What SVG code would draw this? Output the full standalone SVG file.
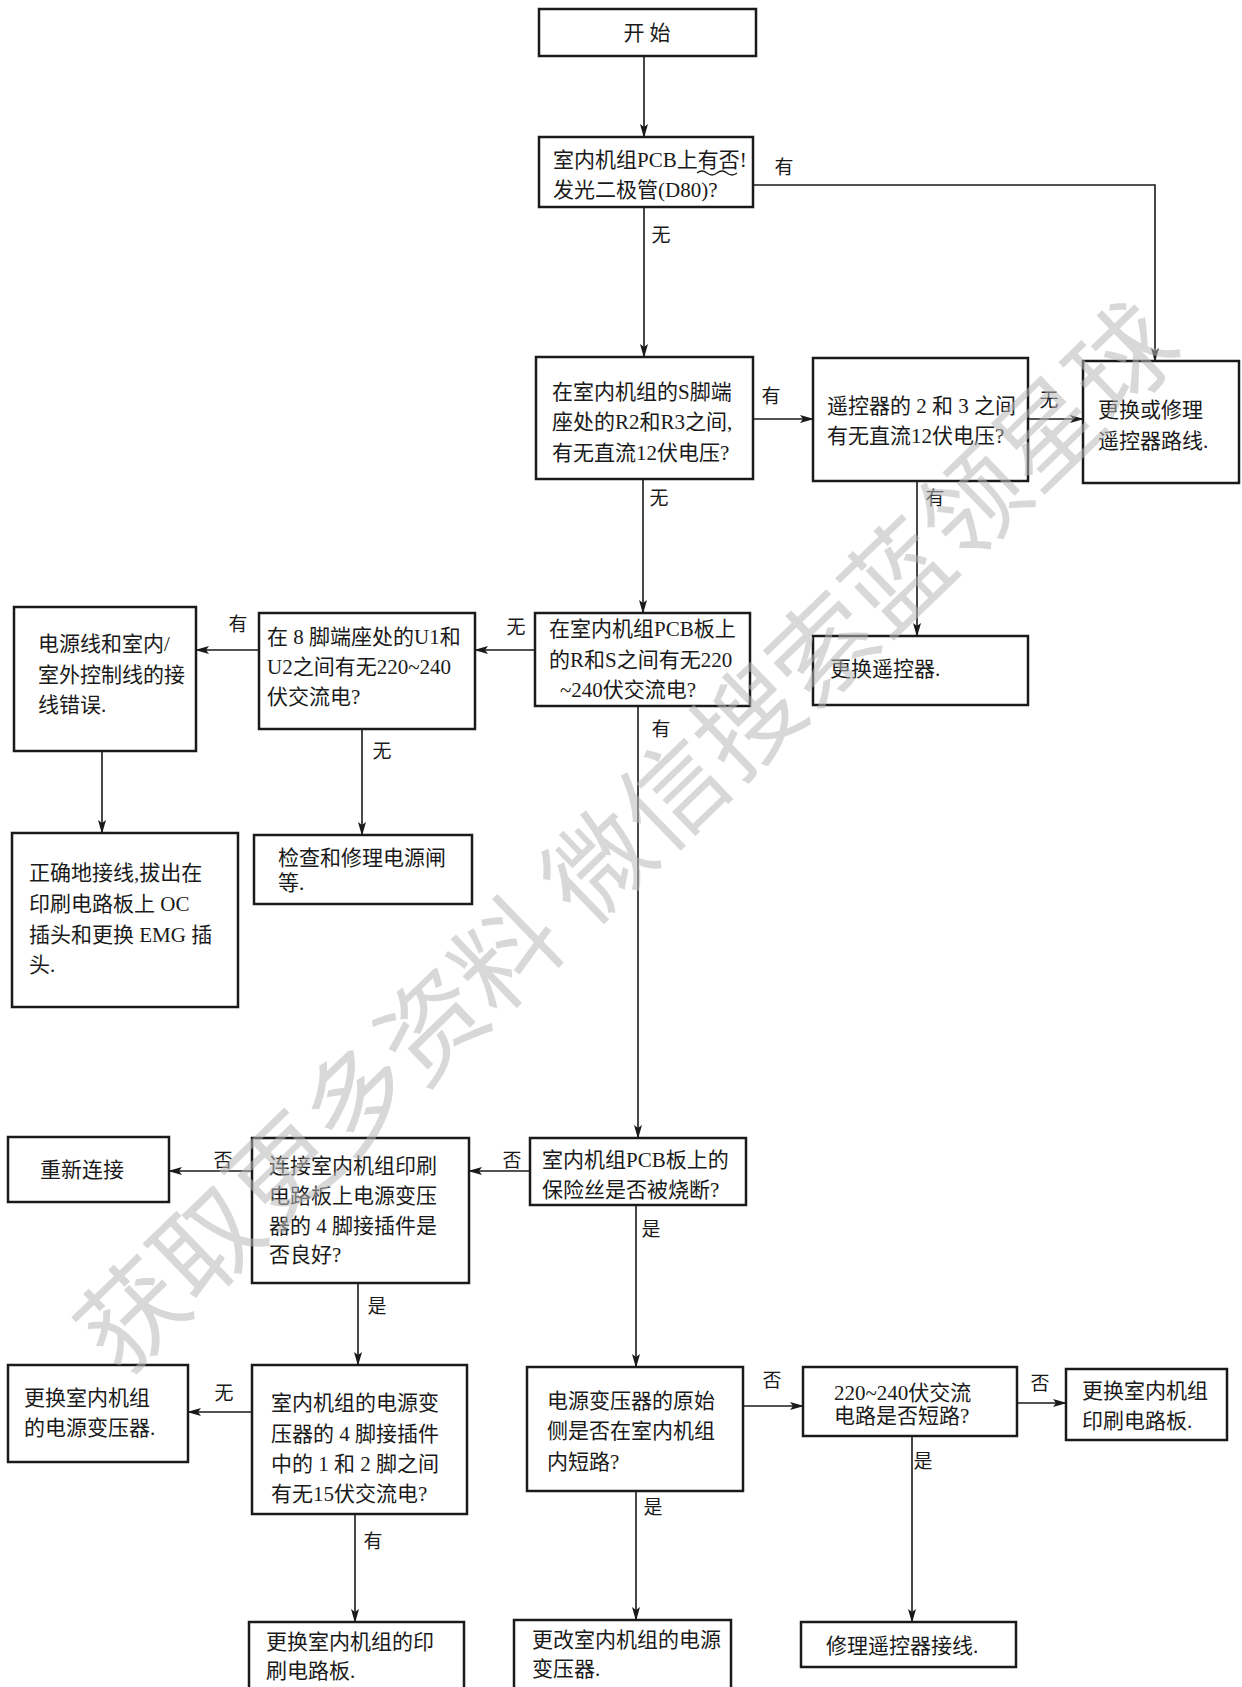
<svg xmlns="http://www.w3.org/2000/svg" width="1242" height="1687" viewBox="0 0 1242 1687">
<style>
.box{fill:none;stroke:#1a1a1a;stroke-width:2.5}
.t{font-family:"Liberation Serif","Noto Sans CJK SC",serif;font-size:21px;fill:#1a1a1a}
.l{font-family:"Liberation Serif","Noto Sans CJK SC",serif;font-size:19px;fill:#1a1a1a;text-anchor:middle;dominant-baseline:central}
.c{fill:none;stroke:#1a1a1a;stroke-width:1.6;marker-end:url(#ah)}
.wm{font-family:"Noto Sans CJK SC",sans-serif;font-size:104px;fill:#b8b8b8;fill-opacity:0.55;text-anchor:middle;dominant-baseline:central}
</style>
<defs>
<marker id="ah" viewBox="0 0 14 10" refX="13" refY="5" markerWidth="14" markerHeight="10" markerUnits="userSpaceOnUse" orient="auto">
<path d="M0,1 L14,5 L0,9 L3,5 Z" fill="#1a1a1a"/>
</marker>
</defs>
<rect width="1242" height="1687" fill="#ffffff"/>

<g id="connectors">
<path class="c" d="M644,56 V137"/>
<path class="c" d="M644,207 V357"/>
<path class="c" d="M753,185 H1155 V361"/>
<path class="c" d="M753,419 H813"/>
<path class="c" d="M1028,419 H1083"/>
<path class="c" d="M917,481 V636"/>
<path class="c" d="M643,479 V613"/>
<path class="c" d="M535,650 H475"/>
<path class="c" d="M259,650 H196"/>
<path class="c" d="M362,729 V835"/>
<path class="c" d="M102,751 V833"/>
<path class="c" d="M638,706 V1138"/>
<path class="c" d="M530,1171 H469"/>
<path class="c" d="M252,1171 H169"/>
<path class="c" d="M358,1283 V1365"/>
<path class="c" d="M252,1412 H188"/>
<path class="c" d="M355,1514 V1622"/>
<path class="c" d="M636,1205 V1367"/>
<path class="c" d="M743,1406 H803"/>
<path class="c" d="M1017,1403 H1066"/>
<path class="c" d="M912,1436 V1622"/>
<path class="c" d="M636,1491 V1620"/>
<text class="l" x="661" y="235">无</text>
<text class="l" x="784" y="167">有</text>
<text class="l" x="771" y="396">有</text>
<text class="l" x="1049" y="400">无</text>
<text class="l" x="935" y="498">有</text>
<text class="l" x="659" y="498">无</text>
<text class="l" x="516" y="627">无</text>
<text class="l" x="238" y="624">有</text>
<text class="l" x="382" y="751">无</text>
<text class="l" x="661" y="729">有</text>
<text class="l" x="512" y="1160">否</text>
<text class="l" x="223" y="1160">否</text>
<text class="l" x="377" y="1306">是</text>
<text class="l" x="224" y="1393">无</text>
<text class="l" x="373" y="1541">有</text>
<text class="l" x="651" y="1229">是</text>
<text class="l" x="772" y="1380">否</text>
<text class="l" x="1040" y="1383">否</text>
<text class="l" x="923" y="1461">是</text>
<text class="l" x="653" y="1507">是</text>
</g>

<g id="n-start">
<rect class="box" x="539" y="9" width="217" height="47"/>
<text class="t" x="647" y="40" text-anchor="middle">开 始</text>
</g>
<g id="n-d80">
<rect class="box" x="539" y="137" width="214" height="70"/>
<text class="t" x="553" y="167">室内机组PCB上有否!</text>
<text class="t" x="553" y="197">发光二极管(D80)?</text>
<path d="M697,173 q5,-4 10,0 t10,0 t10,0 t10,0" fill="none" stroke="#1a1a1a" stroke-width="1.3"/>
</g>
<g id="n-s">
<rect class="box" x="536" y="357" width="217" height="122"/>
<text class="t" x="552" y="399">在室内机组的S脚端</text>
<text class="t" x="552" y="429">座处的R2和R3之间,</text>
<text class="t" x="552" y="460">有无直流12伏电压?</text>
</g>
<g id="n-remote23">
<rect class="box" x="813" y="358" width="215" height="123"/>
<text class="t" x="827" y="413">遥控器的 2 和 3 之间</text>
<text class="t" x="827" y="443">有无直流12伏电压?</text>
</g>
<g id="n-repairline">
<rect class="box" x="1083" y="361" width="156" height="122"/>
<text class="t" x="1098" y="417">更换或修理</text>
<text class="t" x="1098" y="448">遥控器路线.</text>
</g>
<g id="n-rs">
<rect class="box" x="535" y="613" width="215" height="93"/>
<text class="t" x="549" y="636">在室内机组PCB板上</text>
<text class="t" x="549" y="667">的R和S之间有无220</text>
<text class="t" x="560" y="697">~240伏交流电?</text>
</g>
<g id="n-u1u2">
<rect class="box" x="259" y="613" width="216" height="116"/>
<text class="t" x="267" y="644">在 8 脚端座处的U1和</text>
<text class="t" x="267" y="674">U2之间有无220~240</text>
<text class="t" x="267" y="704">伏交流电?</text>
</g>
<g id="n-wiring">
<rect class="box" x="14" y="607" width="182" height="144"/>
<text class="t" x="38" y="651">电源线和室内/</text>
<text class="t" x="38" y="682">室外控制线的接</text>
<text class="t" x="38" y="712">线错误.</text>
</g>
<g id="n-replremote">
<rect class="box" x="813" y="636" width="215" height="69"/>
<text class="t" x="830" y="676">更换遥控器.</text>
</g>
<g id="n-correct">
<rect class="box" x="12" y="833" width="226" height="174"/>
<text class="t" x="29" y="880">正确地接线,拔出在</text>
<text class="t" x="29" y="911">印刷电路板上 OC</text>
<text class="t" x="29" y="942">插头和更换 EMG 插</text>
<text class="t" x="29" y="972">头.</text>
</g>
<g id="n-check">
<rect class="box" x="254" y="835" width="218" height="69"/>
<text class="t" x="278" y="865">检查和修理电源闸</text>
<text class="t" x="278" y="890">等.</text>
</g>
<g id="n-reconnect">
<rect class="box" x="8" y="1137" width="161" height="65"/>
<text class="t" x="40" y="1177">重新连接</text>
</g>
<g id="n-connector">
<rect class="box" x="252" y="1138" width="217" height="145"/>
<text class="t" x="269" y="1173">连接室内机组印刷</text>
<text class="t" x="269" y="1203">电路板上电源变压</text>
<text class="t" x="269" y="1233">器的 4 脚接插件是</text>
<text class="t" x="269" y="1262">否良好?</text>
</g>
<g id="n-fuse">
<rect class="box" x="530" y="1138" width="216" height="67"/>
<text class="t" x="542" y="1167">室内机组PCB板上的</text>
<text class="t" x="542" y="1197">保险丝是否被烧断?</text>
</g>
<g id="n-repltrans">
<rect class="box" x="8" y="1365" width="180" height="97"/>
<text class="t" x="24" y="1405">更换室内机组</text>
<text class="t" x="24" y="1435">的电源变压器.</text>
</g>
<g id="n-15v">
<rect class="box" x="252" y="1365" width="215" height="149"/>
<text class="t" x="271" y="1410">室内机组的电源变</text>
<text class="t" x="271" y="1441">压器的 4 脚接插件</text>
<text class="t" x="271" y="1471">中的 1 和 2 脚之间</text>
<text class="t" x="271" y="1501">有无15伏交流电?</text>
</g>
<g id="n-primary">
<rect class="box" x="527" y="1367" width="216" height="124"/>
<text class="t" x="547" y="1408">电源变压器的原始</text>
<text class="t" x="547" y="1438">侧是否在室内机组</text>
<text class="t" x="547" y="1469">内短路?</text>
</g>
<g id="n-acshort">
<rect class="box" x="803" y="1367" width="214" height="69"/>
<text class="t" x="834" y="1400">220~240伏交流</text>
<text class="t" x="834" y="1423">电路是否短路?</text>
</g>
<g id="n-replpcb">
<rect class="box" x="1066" y="1369" width="161" height="71"/>
<text class="t" x="1082" y="1398">更换室内机组</text>
<text class="t" x="1082" y="1428">印刷电路板.</text>
</g>
<g id="n-replpcb2">
<rect class="box" x="249" y="1622" width="215" height="80"/>
<text class="t" x="266" y="1649">更换室内机组的印</text>
<text class="t" x="266" y="1678">刷电路板.</text>
</g>
<g id="n-changetrans">
<rect class="box" x="514" y="1620" width="217" height="80"/>
<text class="t" x="532" y="1647">更改室内机组的电源</text>
<text class="t" x="532" y="1676">变压器.</text>
</g>
<g id="n-repairwire">
<rect class="box" x="801" y="1622" width="215" height="45"/>
<text class="t" x="826" y="1653">修理遥控器接线.</text>
</g>

<g id="watermark">
<text class="wm" transform="translate(622,832) rotate(-44)">获取更多资料 微信搜索蓝领星球</text>
</g>
</svg>
